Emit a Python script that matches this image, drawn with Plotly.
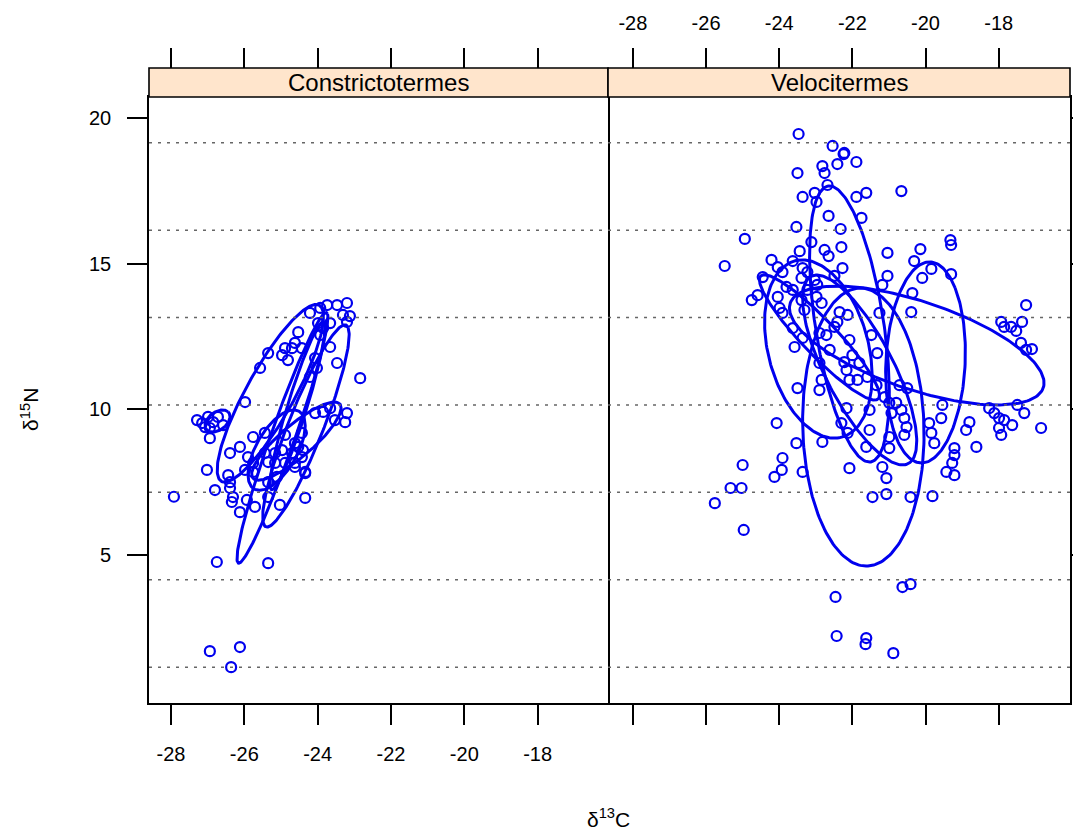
import numpy as np
import plotly.graph_objects as go

# ---------------- data ----------------
panels = ["Constrictotermes", "Velocitermes"]

const_d13C = [-23.20, -23.47, -23.74, -23.93, -24.21, -23.31, -23.12, -23.20, -23.99, -23.66,
              -23.85, -23.93, -23.66, -24.53, -24.62, -24.89, -24.70, -24.43, -24.97, -24.81,
              -25.35, -25.57, -24.07, -24.02, -24.21, -23.47, -22.84, -25.98,
              -27.29, -27.15, -26.99, -26.85, -26.72, -26.94, -27.07, -26.94, -26.58,
              -23.20, -23.25, -23.53, -24.07, -23.85, -23.66,
              -24.89, -25.76, -25.44, -24.43, -24.62, -24.53, -24.40, -24.70, -24.97, -25.16,
              -25.44, -26.12, -26.39, -25.90, -25.76, -25.35, -25.16, -25.98, -25.76, -24.89,
              -24.62, -24.43, -24.34, -27.02, -26.44, -26.39, -26.39, -26.80, -26.31, -26.34,
              -25.93, -25.71, -26.12, -25.35, -25.03, -24.34, -24.62, -25.11, -25.35, -24.34,
              -26.75, -25.35, -27.92, -26.94, -26.12, -26.36]
const_d15N = [13.65, 13.58, 13.58, 13.48, 13.31, 13.24, 13.20, 13.00, 12.96, 12.96,
              12.79, 12.55, 12.14, 12.65, 12.28, 12.10, 12.10, 12.10, 11.86, 11.69,
              11.93, 11.42, 11.76, 11.42, 11.11, 11.59, 11.07, 10.25,
              9.63, 9.53, 9.74, 9.56, 9.74, 9.36, 9.39, 9.01, 9.46,
              9.87, 9.56, 9.63, 9.87, 9.91, 10.04,
              9.12, 9.05, 9.19, 9.19, 8.84, 8.71, 8.60, 8.50, 8.60, 8.50,
              8.50, 8.71, 8.50, 8.36, 8.16, 8.19, 8.16, 7.92, 7.85, 8.16,
              8.16, 8.36, 7.81, 7.92, 7.74, 7.50, 7.30, 7.23, 6.99, 6.82,
              6.89, 6.65, 6.47, 6.99, 6.72, 6.96, 8.02, 7.68, 7.50, 7.85,
              4.76, 4.72, 7.00, 1.70, 1.84, 1.15]

velo_d13C = [-23.47, -22.54, -22.24, -22.41, -22.82, -24.94, -25.49, -22.22, -21.89, -19.32,
             -19.30, -19.30, -17.25,
             -23.50, -22.76, -22.68, -23.36, -23.03, -22.98, -21.89, -21.62, -20.66, -22.65,
             -21.75, -23.53, -22.32, -23.12, -22.30, -21.04, -20.14, -22.76, -23.44, -22.65,
             -24.21, -23.63, -20.31, -24.04, -23.36, -22.27, -19.84, -24.45, -23.91, -23.39,
             -23.23, -22.49, -21.04, -20.09, -23.03, -22.96, -23.80, -23.63, -23.23, -24.59,
             -24.75, -24.04, -22.98, -22.84, -23.39, -23.31, -23.99, -23.91, -20.36, -22.35,
             -22.13, -22.41, -21.26, -20.39, -23.63, -22.90, -22.71, -22.49, -22.08, -23.36,
             -23.58, -22.62, -22.00, -21.48, -21.32, -21.81, -22.90, -22.22, -22.16, -22.08,
             -21.86, -21.59, -21.34, -22.84, -23.50, -22.90, -21.12, -20.99, -20.80, -20.66,
             -20.58, -20.93, -20.50, -20.71, -22.16, -21.53, -22.30, -22.13, -21.53, -24.07,
             -23.53, -22.82, -21.62, -20.99, -20.99, -20.58, -20.52, -19.90, -19.84, -19.54,
             -19.57, -19.76, -23.91, -23.93, -24.13, -23.36, -22.08, -21.18, -21.07, -19.43,
             -21.18,
             -17.93, -17.85, -17.66, -17.52, -17.36, -17.39, -17.25, -17.09, -19.21, -19.21,
             -19.27, -19.21, -18.61, -18.80, -18.89, -18.26, -18.12, -17.99, -17.85, -17.99,
             -17.93, -17.63, -17.30, -17.49, -16.84,
             -25.00, -25.33, -25.03, -25.76, -24.97, -22.46, -22.43,
             -21.45, -21.07, -20.41, -19.81, -20.63, -20.41, -21.62, -21.64, -20.88]
velo_d15N = [19.45, 19.04, 18.76, 18.42, 18.35, 15.85, 14.92, 18.80, 18.49, 15.81,
             15.64, 14.64, 13.58,
             18.11, 18.11, 17.70, 17.29, 17.43, 17.12, 17.29, 17.43, 17.49, 16.64,
             16.57, 16.26, 16.19, 15.74, 15.57, 15.37, 15.50, 15.47, 15.43, 15.26,
             15.13, 15.09, 15.09, 14.88, 14.85, 14.85, 14.82, 14.54, 14.71, 14.51,
             14.71, 14.58, 14.58, 14.51, 14.44, 14.27, 14.20, 14.10, 14.10, 13.92,
             13.75, 13.86, 13.86, 13.65, 13.75, 13.41, 13.48, 13.31, 13.99, 13.34,
             13.24, 13.00, 13.31, 13.34, 12.79, 12.62, 12.55, 12.83, 12.38, 12.45,
             12.14, 12.04, 11.86, 12.55, 11.93, 11.59, 11.59, 11.62, 11.35, 11.01,
             11.01, 11.11, 10.83, 11.01, 10.73, 10.66, 10.42, 10.22, 10.22, 9.98,
             9.70, 9.87, 10.73, 10.83, 10.04, 9.98, 9.53, 9.19, 9.29, 9.53,
             8.84, 8.88, 8.71, 9.05, 8.67, 9.12, 9.39, 9.53, 9.19, 10.15,
             9.70, 8.84, 8.33, 7.92, 7.68, 7.85, 7.98, 8.02, 7.64, 7.85,
             14.27,
             13.00, 12.83, 12.83, 12.69, 13.00, 12.28, 12.04, 12.07, 8.67, 8.43,
             8.16, 7.74, 8.71, 9.56, 9.29, 10.04, 9.87, 9.70, 9.63, 9.36,
             9.12, 9.46, 9.87, 10.15, 9.36,
             8.09, 7.30, 7.30, 6.78, 5.86, 3.56, 2.22,
             6.99, 7.09, 6.99, 7.02, 3.90, 4.00, 2.15, 1.94, 1.63]

# group ellipses: centre, half-extent in x and y, correlation
const_ell_cx = [-25.29, -24.96, -24.32, -25.12, -24.58, -26.73, -24.55]
const_ell_cy = [10.55, 9.02, 9.43, 8.60, 8.91, 9.60, 10.12]
const_ell_sx = [1.45, 1.24, 1.18, 0.78, 1.22, 0.34, 0.75]
const_ell_sy = [3.05, 4.30, 3.47, 1.38, 1.34, 0.38, 2.88]
const_ell_r = [0.86, 0.96, 0.90, 0.60, 0.85, 0.40, 0.93]

velo_ell_cx = [-22.08, -21.80, -22.93, -20.00, -21.70, -20.24, -22.90]
velo_ell_cy = [12.93, 11.35, 12.07, 11.61, 9.39, 12.19, 12.47]
velo_ell_sx = [1.09, 1.56, 1.47, 1.09, 1.66, 3.48, 1.64]
velo_ell_sy = [4.74, 3.26, 3.06, 3.45, 4.77, 2.04, 2.15]
velo_ell_r = [-0.50, -0.75, -0.30, 0.10, -0.05, -0.63, -0.92]

ref_levels = [1.15, 4.15, 7.15, 10.15, 13.15, 16.15, 19.15]

x_ticks = [-28, -26, -24, -22, -20, -18]
x_tick_labels = ["-28", "-26", "-24", "-22", "-20", "-18"]
y_ticks = [5, 10, 15, 20]
y_tick_labels = ["5", "10", "15", "20"]
x_range_left = [-28.60, -16.08]
x_range_right = [-28.68, -16.05]
y_range = [-0.08, 20.72]

# ---------------- figure ----------------
BLUE = "#0000EE"
FONT = "Liberation Sans, Arial, sans-serif"
fig = go.Figure()


def ellipse(cx, cy, sx, sy, r, n=200):
    t = np.linspace(0, 2 * np.pi, n)
    d = np.arccos(r)
    return cx + sx * np.cos(t + d / 2), cy + sy * np.cos(t - d / 2)


# dotted reference lines, drawn on the top (overlay) axes so those axes render
for xa, ya, xr in [("x3", "y", x_range_left), ("x4", "y2", x_range_right)]:
    lx, ly = [], []
    for lv in ref_levels:
        lx += [xr[0], xr[1], None]
        ly += [lv, lv, None]
    fig.add_trace(go.Scatter(
        x=lx, y=ly, mode="lines", xaxis=xa, yaxis=ya, showlegend=False, hoverinfo="skip",
        line=dict(color="#666666", width=1.5, dash="3px,6px")))

panel_data = [
    ("x", "y", const_d13C, const_d15N,
     (const_ell_cx, const_ell_cy, const_ell_sx, const_ell_sy, const_ell_r)),
    ("x2", "y2", velo_d13C, velo_d15N,
     (velo_ell_cx, velo_ell_cy, velo_ell_sx, velo_ell_sy, velo_ell_r)),
]
for xa, ya, px, py, ell in panel_data:
    fig.add_trace(go.Scatter(
        x=px, y=py, mode="markers", xaxis=xa, yaxis=ya, showlegend=False,
        marker=dict(symbol="circle-open", size=10, color=BLUE, line=dict(width=2.2, color=BLUE)),
        hoverinfo="skip"))
    for cx, cy, sx, sy, r in zip(*ell):
        ex, ey = ellipse(cx, cy, sx, sy, r)
        fig.add_trace(go.Scatter(
            x=ex, y=ey, mode="lines", xaxis=xa, yaxis=ya, showlegend=False,
            line=dict(color=BLUE, width=3), hoverinfo="skip"))

split = 0.4984
ytop = 0.9543
axis_common = dict(showgrid=False, zeroline=False, ticks="outside", ticklen=20, tickwidth=1.5,
                   tickcolor="black", linecolor="black", linewidth=1.6, automargin=False,
                   tickfont=dict(family=FONT, size=20, color="black"))
xt = dict(tickmode="array", tickvals=x_ticks, ticktext=x_tick_labels)
yt = dict(tickmode="array", tickvals=y_ticks, ticktext=y_tick_labels)

# the page body adds an 8px offset, so the figure is 8px smaller than the window
fig.update_layout(
    width=1073, height=824,
    margin=dict(l=141, r=11, t=60, b=129, autoexpand=False),
    paper_bgcolor="white", plot_bgcolor="white",
    font=dict(family=FONT, size=20, color="black"),
    showlegend=False,
    xaxis=dict(domain=[0, split], range=x_range_left, anchor="y",
               showline=True, mirror=True, ticklabelstandoff=12, **xt, **axis_common),
    yaxis=dict(domain=[0, ytop], range=y_range, anchor="x",
               showline=True, mirror=True, ticklabelstandoff=12, **yt, **axis_common),
    xaxis2=dict(domain=[split, 1], range=x_range_right, anchor="y2",
                showline=True, mirror=True, showticklabels=False, **xt, **axis_common),
    yaxis2=dict(domain=[0, ytop], range=y_range, anchor="x2", side="right",
                showline=True, mirror=False, showticklabels=False, **yt, **axis_common),
    xaxis3=dict(overlaying="x", anchor="free", position=1.0, side="top", range=x_range_left,
                showline=False, showticklabels=False, **xt, **axis_common),
    xaxis4=dict(overlaying="x2", anchor="free", position=1.0, side="top", range=x_range_right,
                showline=False, showticklabels=True, ticklabelstandoff=10, **xt, **axis_common),
)

# strips
for i, name in enumerate(panels):
    x0, x1 = (0, split) if i == 0 else (split, 1)
    fig.add_shape(type="rect", xref="paper", yref="paper", x0=x0, x1=x1, y0=ytop, y1=1.0,
                  fillcolor="#FFE5CC", line=dict(color="black", width=1.6))
    fig.add_annotation(text=name, xref="paper", yref="paper", x=(x0 + x1) / 2, y=(ytop + 1) / 2,
                       showarrow=False, font=dict(family=FONT, size=24, color="black"),
                       xanchor="center", yanchor="middle")

fig.add_annotation(text="δ<sup>13</sup>C", xref="paper", yref="paper", x=split, y=-0.181,
                   showarrow=False, font=dict(family=FONT, size=21, color="black"),
                   xanchor="center", yanchor="middle")
fig.add_annotation(text="δ<sup>15</sup>N", xref="paper", yref="paper", x=-0.13, y=0.462,
                   showarrow=False, textangle=-90, font=dict(family=FONT, size=21, color="black"),
                   xanchor="center", yanchor="middle")

fig.write_html("out.html")
